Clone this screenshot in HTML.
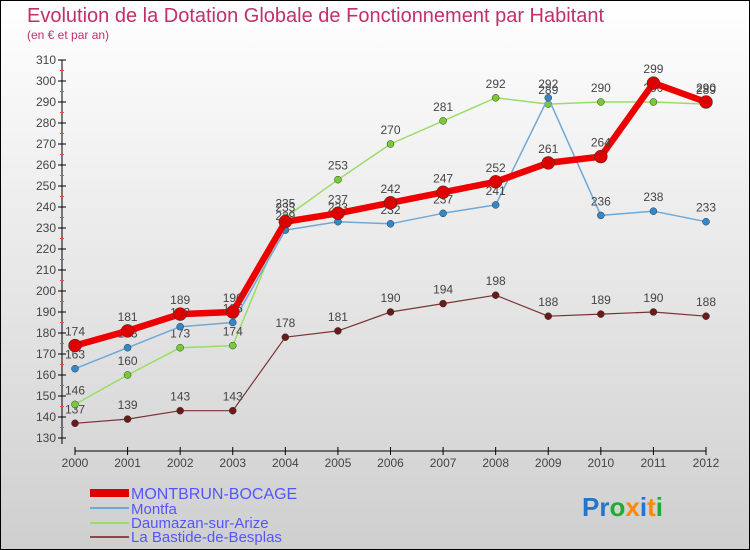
<!DOCTYPE html>
<html><head><meta charset="utf-8"><style>
body{margin:0;}
#c{width:750px;height:550px;position:relative;overflow:hidden;}
svg text{font-family:"Liberation Sans",sans-serif;}
</style></head><body>
<div id="c">
<svg id="s" width="750" height="550" xmlns="http://www.w3.org/2000/svg">
<defs><linearGradient id="bg" x1="0" y1="0" x2="0" y2="1"><stop offset="0" stop-color="#ffffff"/><stop offset="1" stop-color="#cfcfcf"/></linearGradient></defs>
<rect x="0.5" y="0.5" width="749" height="549" fill="url(#bg)" stroke="#000"/>
<text x="27" y="22" font-size="20" fill="#c0306a">Evolution de la Dotation Globale de Fonctionnement par Habitant</text>
<text x="27" y="39" font-size="12" fill="#c0306a">(en € et par an)</text>
<g id="axes"></g><g id="series"></g>
<g>
<rect x="90" y="489" width="39" height="8" fill="#e00000"/>
<text x="131" y="499" font-size="16" fill="#5555ff">MONTBRUN-BOCAGE</text>
<line x1="90" y1="508" x2="129" y2="508" stroke="#6fa8d6" stroke-width="2"/>
<text x="131" y="514" font-size="15" fill="#5555ff">Montfa</text>
<line x1="90" y1="523" x2="129" y2="523" stroke="#99dd66" stroke-width="2"/>
<text x="131" y="528" font-size="15" fill="#5555ff">Daumazan-sur-Arize</text>
<line x1="90" y1="537" x2="129" y2="537" stroke="#8b4a4a" stroke-width="2"/>
<text x="131" y="542" font-size="15" fill="#5555ff">La Bastide-de-Besplas</text>
</g>
<text x="582" y="516" font-size="26" font-weight="bold"><tspan fill="#2277cc">Pr</tspan><tspan fill="#22aa33">o</tspan><tspan fill="#ff8800">x</tspan><tspan fill="#2277cc">i</tspan><tspan fill="#ff8800">t</tspan><tspan fill="#22aa33">i</tspan></text>
</svg></div>
<script>
const years=[2000,2001,2002,2003,2004,2005,2006,2007,2008,2009,2010,2011,2012];
const montbrun=[174,181,189,190,233,237,242,247,252,261,264,299,290];
const montfa=[163,173,183,185,229,233,232,237,241,292,236,238,233];
const daumazan=[146,160,173,174,235,253,270,281,292,289,290,290,289];
const bastide=[137,139,143,143,178,181,190,194,198,188,189,190,188];
const yTicks=[130,140,150,160,170,180,190,200,210,220,230,240,250,260,270,280,290,300,310];
const NS="http://www.w3.org/2000/svg";
const X=i=>75+i*(706-75)/12;
const Y=v=>438-(v-130)*(438-60)/180;
function mk(tag,at,parent){const e=document.createElementNS(NS,tag);for(const k in at)e.setAttribute(k,at[k]);parent.appendChild(e);return e;}
const ax=document.getElementById('axes');
let yl=mk('line',{x1:62,y1:60,x2:62,y2:444,stroke:'#000'},ax);


yTicks.forEach((v,k)=>{
  mk('line',{x1:58,y1:Y(v),x2:66,y2:Y(v),stroke:'#000'},ax);
  if(k<yTicks.length-1) mk('line',{x1:60,y1:Y(v+5),x2:64,y2:Y(v+5),stroke:'#f44'},ax);
  const t=mk('text',{x:56,y:Y(v)+4,'font-size':12,fill:'#444','text-anchor':'end'},ax);t.textContent=v;
  
  
});
let xl=mk('line',{x1:75,y1:451,x2:706,y2:451,stroke:'#000'},ax);


years.forEach((y,i)=>{
  mk('line',{x1:X(i),y1:447,x2:X(i),y2:455,stroke:'#000'},ax);
  const t=mk('text',{x:X(i),y:467,'font-size':12,fill:'#444','text-anchor':'middle'},ax);t.textContent=y;
  
  
});
const sg=document.getElementById('series');
function series(d,color,w,r,dot,name){
  const g=mk('g',{},sg);
  
  
  mk('polyline',{points:d.map((v,i)=>X(i)+','+Y(v)).join(' '),fill:'none',stroke:color,'stroke-width':w,'stroke-linejoin':'round'},g);
  d.forEach((v,i)=>{
    const c=mk('circle',{cx:X(i),cy:Y(v),r:r,fill:dot,stroke:'#333','stroke-width':0.5},g);
    
    
    const t=mk('text',{x:X(i),y:Y(v)-10,'font-size':12,fill:'#444','text-anchor':'middle'},g);t.textContent=v;
    
    
  });
}
series(bastide,'#7a3333',1.2,3.5,'#6b1a1a','series-la-bastide');
series(daumazan,'#99dd66',1.5,3.5,'#77cc33','series-daumazan');
series(montfa,'#6fa8d6',1.5,3.5,'#3388cc','series-montfa');
series(montbrun,'#ee0000',6.5,6.5,'#dd0000','series-montbrun');
</script>
</body></html>
